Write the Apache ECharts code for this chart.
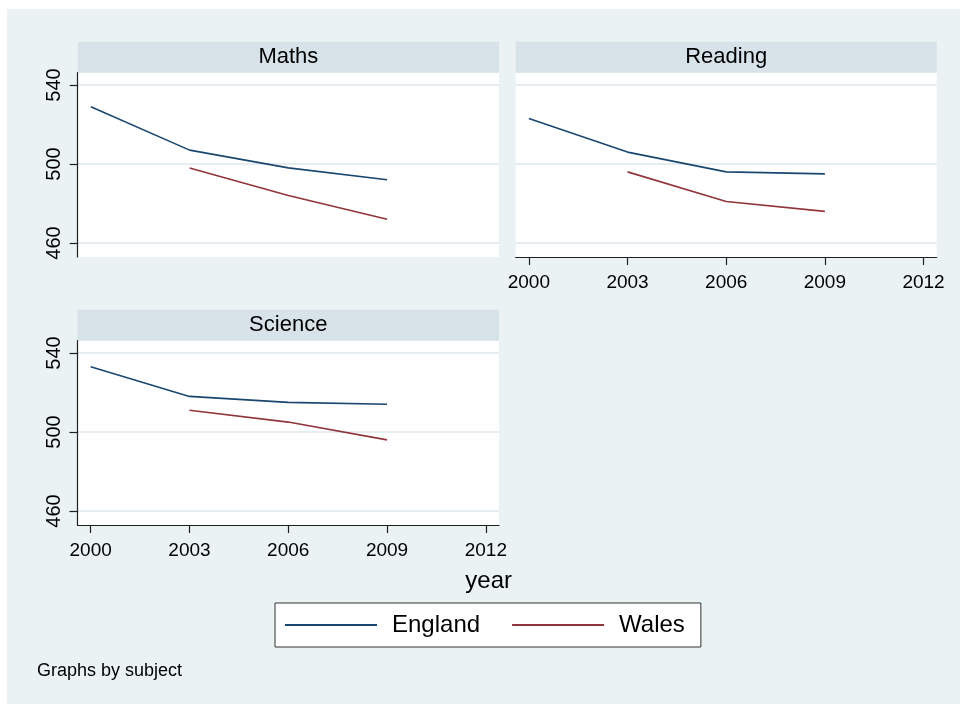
<!DOCTYPE html>
<html>
<head>
<meta charset="utf-8">
<script src="https://cdn.jsdelivr.net/npm/echarts@6/dist/echarts.min.js"></script>
<style>
  html, body { margin: 0; padding: 0; background: #ffffff; }
  #wrap { position: relative; width: 960px; height: 704px; }
  #region { position: absolute; left: 7px; top: 9px; right: 0; bottom: 0; background: #eaf2f3; }
  #chart { position: absolute; left: 0; top: 0; width: 960px; height: 704px; }
</style>
</head>
<body>
<div id="wrap">
  <div id="region"></div>
  <div id="chart"></div>
</div>
<script>
// PISA mean scores by subject, England vs Wales
const years = [2000, 2003, 2006, 2009];
const subjects = ['Maths', 'Reading', 'Science'];
const mathsEngland = [529, 507, 498, 492];
const mathsWales = [null, 498, 484, 472];
const readingEngland = [523, 506, 496, 495];
const readingWales = [null, 496, 481, 476];
const scienceEngland = [533, 518, 515, 514];
const scienceWales = [null, 511, 505, 496];
const xTicks = [2000, 2003, 2006, 2009, 2012];
const yTicks = [460, 500, 540];
const countries = ['England', 'Wales'];

const colors = { England: '#1a476f', Wales: '#90353b' };
const font = 'Liberation Sans, Arial, sans-serif';

function pairs(vals) {
  const out = [];
  years.forEach((y, i) => { if (vals[i] !== null) out.push([y, vals[i]]); });
  return out;
}

// panel boxes: plot area of each facet
const panels = [
  { left: 77.7, top: 72.7, width: 421.3, height: 184.3, showX: false, showY: true },
  { left: 515.7, top: 72.7, width: 421, height: 184.3, showX: true, showY: false },
  { left: 77.5, top: 340.7, width: 421.5, height: 184.3, showX: true, showY: true }
];
const stripH = 31;

const axisColor = '#1f1f1f';

const grids = panels.map(p => ({
  left: p.left, top: p.top, width: p.width, height: p.height,
  show: true, backgroundColor: '#ffffff', borderWidth: 0, containLabel: false
}));

const xAxes = panels.map((p, i) => ({
  type: 'value', gridIndex: i, min: 1999.6, max: 2012.4,
  axisLine: { show: p.showX, onZero: false, lineStyle: { color: axisColor, width: 1.2 } },
  axisTick: { show: p.showX, inside: false, length: 8, customValues: xTicks, lineStyle: { color: axisColor, width: 1.2 } },
  axisLabel: {
    show: p.showX, customValues: xTicks, margin: 16, fontSize: 19, fontFamily: font, color: '#000',
    formatter: v => String(v)
  },
  splitLine: { show: false }
}));

const yAxes = panels.map((p, i) => ({
  type: 'value', gridIndex: i, min: 452.9, max: 546.2,
  axisLine: { show: p.showY, onZero: false, lineStyle: { color: axisColor, width: 1.2 } },
  axisTick: { show: p.showY, length: 8, customValues: yTicks, lineStyle: { color: axisColor, width: 1.2 } },
  axisLabel: {
    show: p.showY, customValues: yTicks, rotate: 90, margin: 13, fontSize: 20, fontFamily: font, color: '#000',
    formatter: v => String(v)
  },
  splitLine: { show: true, lineStyle: { color: '#e5edf0', width: 2 } }
}));

const seriesData = [
  [mathsEngland, mathsWales],
  [readingEngland, readingWales],
  [scienceEngland, scienceWales]
];

const series = [];
seriesData.forEach((pair, i) => {
  pair.forEach((vals, c) => {
    const name = countries[c];
    series.push({
      type: 'line', name: name, xAxisIndex: i, yAxisIndex: i,
      data: pairs(vals), symbol: 'none', showSymbol: false,
      lineStyle: { color: colors[name], width: 1.6 },
      itemStyle: { color: colors[name] },
      animation: false
    });
  });
});

// facet strips with subject titles
const graphics = [];
panels.forEach((p, i) => {
  graphics.push({
    type: 'rect', shape: { x: p.left, y: p.top - stripH, width: p.width, height: stripH },
    style: { fill: '#d7e3e9' }, silent: true
  });
  graphics.push({
    type: 'text', x: p.left + p.width / 2, y: p.top - stripH / 2,
    style: { text: subjects[i], font: '22px ' + font, fill: '#000', textAlign: 'center', textVerticalAlign: 'middle' },
    silent: true
  });
});
graphics.push({
  type: 'text', x: 488.7, y: 581,
  style: { text: 'year', font: '24px ' + font, fill: '#000', textAlign: 'center', textVerticalAlign: 'middle' },
  silent: true
});
graphics.push({
  type: 'text', x: 37, y: 671,
  style: { text: 'Graphs by subject', font: '18px ' + font, fill: '#000', textAlign: 'left', textVerticalAlign: 'middle' },
  silent: true
});

const chart = echarts.init(document.getElementById('chart'), null, { renderer: 'canvas' });
chart.setOption({
  backgroundColor: 'transparent',
  animation: false,
  grid: grids,
  xAxis: xAxes,
  yAxis: yAxes,
  series: series,
  graphic: graphics,
  legend: {
    data: countries,
    left: 275, top: 603,
    orient: 'horizontal',
    backgroundColor: '#ffffff',
    borderColor: '#333333', borderWidth: 1, borderRadius: 0,
    padding: [10, 16, 10, 10],
    itemWidth: 92, itemHeight: 24, itemGap: 32,
    icon: 'path://M0,11 L92,11 L92,13 L0,13 Z',
    selectedMode: false,
    textStyle: { fontSize: 24, fontFamily: font, color: '#000', padding: [0, 0, 0, 10] }
  }
});
</script>
</body>
</html>
